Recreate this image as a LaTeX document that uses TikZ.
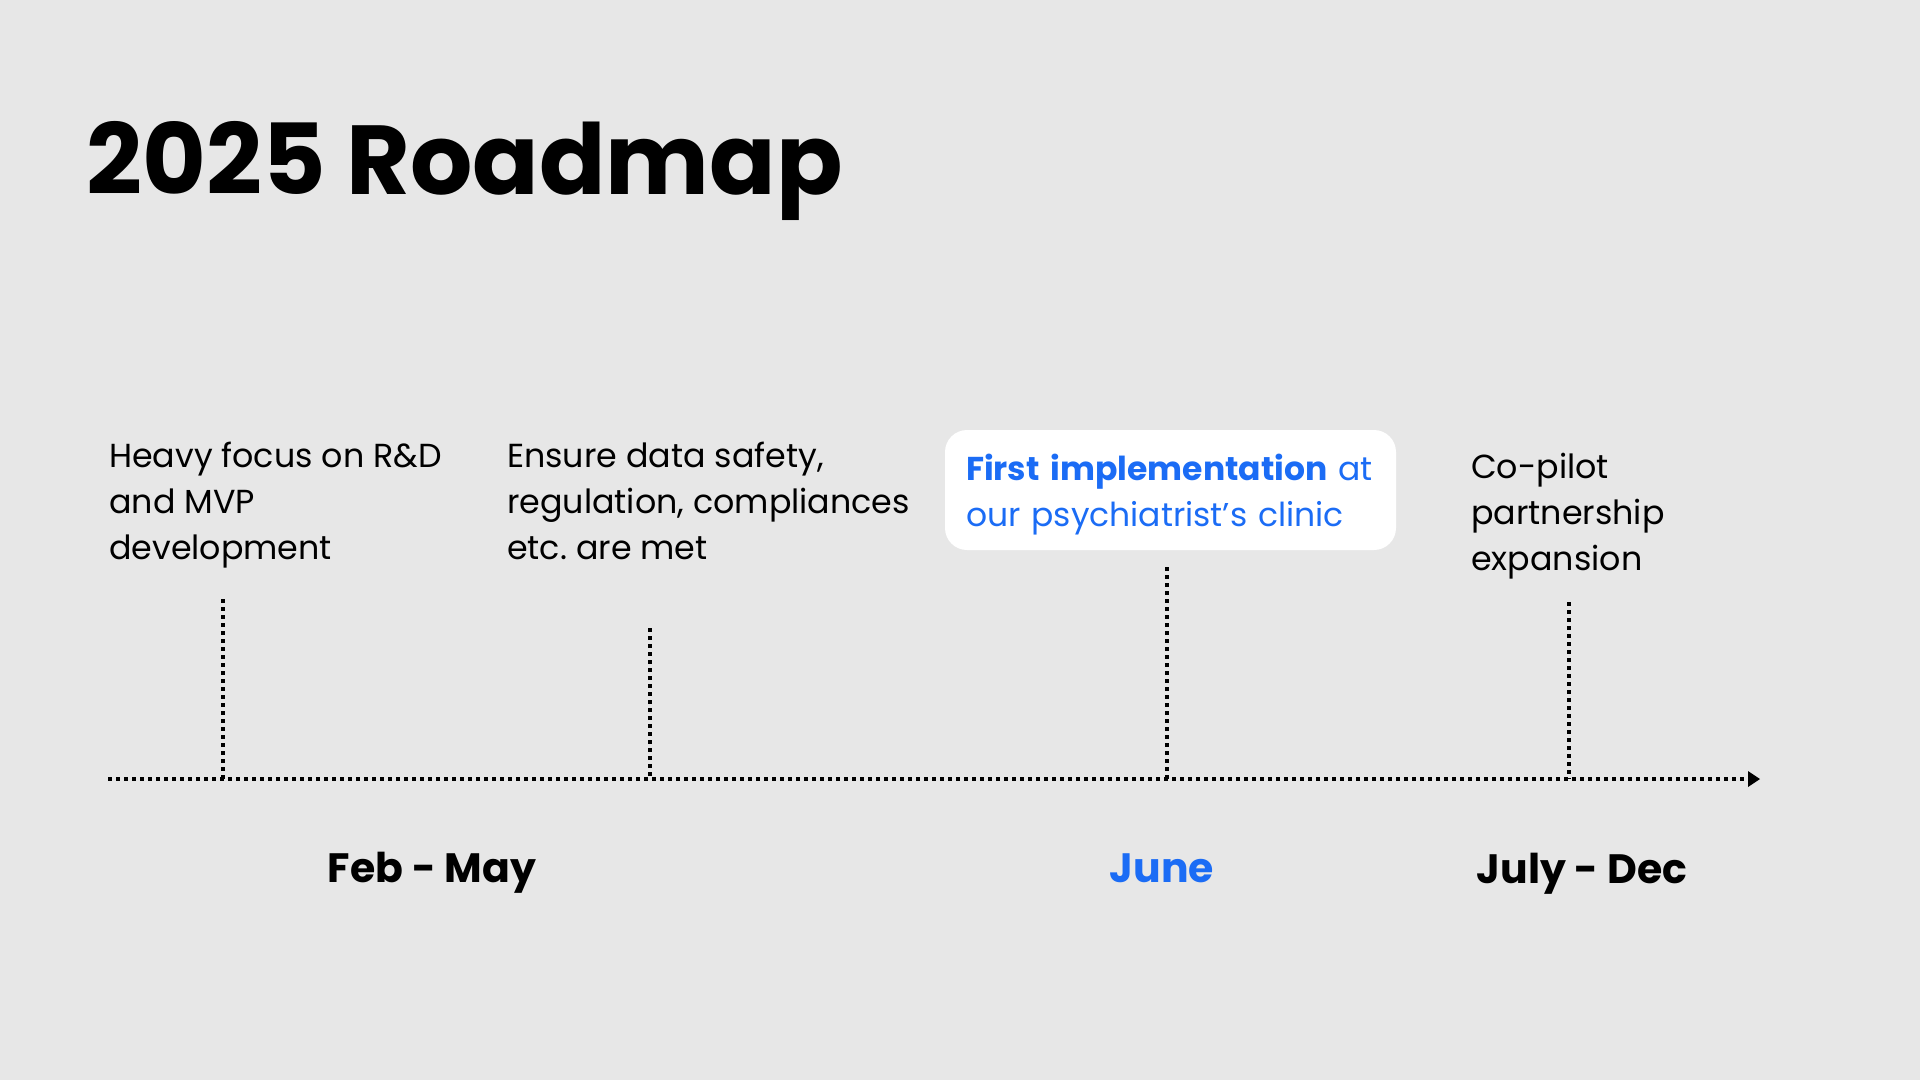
\documentclass[tikz,border=0pt]{standalone}
\usepackage{fontspec}
\setmainfont{Poppins}[BoldFont={Poppins Bold}]
\usetikzlibrary{arrows.meta}
\definecolor{bg}{RGB}{231,231,231}
\definecolor{accent}{RGB}{27,108,245}
\frenchspacing
\begin{document}
\begin{tikzpicture}[x=1pt,y=-1pt,
  body/.style={font=\fontsize{33.3}{46}\selectfont, align=left, inner sep=0pt, anchor=base west, text=black},
  datelabel/.style={font=\fontsize{41}{48}\selectfont\bfseries, inner sep=0pt, anchor=base},
  dotline/.style={line width=4pt, dash pattern=on 4pt off 4pt, black},
  card/.style={fill=white, rounded corners=22pt, minimum width=451pt, minimum height=120pt, inner xsep=21pt, inner ysep=0pt, text width=409pt, align=left, font=\fontsize{33}{46}\selectfont, text=accent}
]
\fill[bg] (0,0) rectangle (1920,1080);
\useasboundingbox (0,0) rectangle (1920,1080);

\node[font=\fontsize{98}{110}\selectfont\bfseries, inner sep=0pt, anchor=base west] (title) at (86,194) {2025 Roadmap};

% base anchor = baseline of the last line
\node[body] (t1) at (109,559) {Heavy focus on R\&D\\and MVP\\development};
\node[body] (t2) at (507,559) {Ensure data safety,\\regulation, compliances\\etc.\ are met};
\node[card] (card) at (1170.5,490) {\rule{0pt}{36pt}\textbf{First implementation} at\\our psychiatrist’s clinic};
\node[body] (t4) at (1471,570) {Co-pilot\\partnership\\expansion};

\coordinate (axstart) at (108,779);
\coordinate (axend) at (1760,779);
\coordinate (k1) at (223,779); \coordinate (k1top) at (223,599);
\coordinate (k2) at (650,779); \coordinate (k2top) at (650,628);
\coordinate (k3) at (1167,779); \coordinate (k3top) at (1167,567);
\coordinate (k4) at (1569,779); \coordinate (k4top) at (1569,602);

\draw[dotline, -{Triangle[length=12pt,width=16pt,line width=0pt]}] (axstart) -- (axend);
\draw[dotline] (k1top) -- (k1);
\draw[dotline] (k2top) -- (k2);
\draw[dotline] (k3top) -- (k3);
\draw[dotline] (k4top) -- (k4);

\node[datelabel] (d1) at (432,882) {Feb - May};
\node[datelabel, text=accent] (d2) at (1162,882) {June};
\node[datelabel] (d3) at (1582,883) {July - Dec};
\end{tikzpicture}
\end{document}
